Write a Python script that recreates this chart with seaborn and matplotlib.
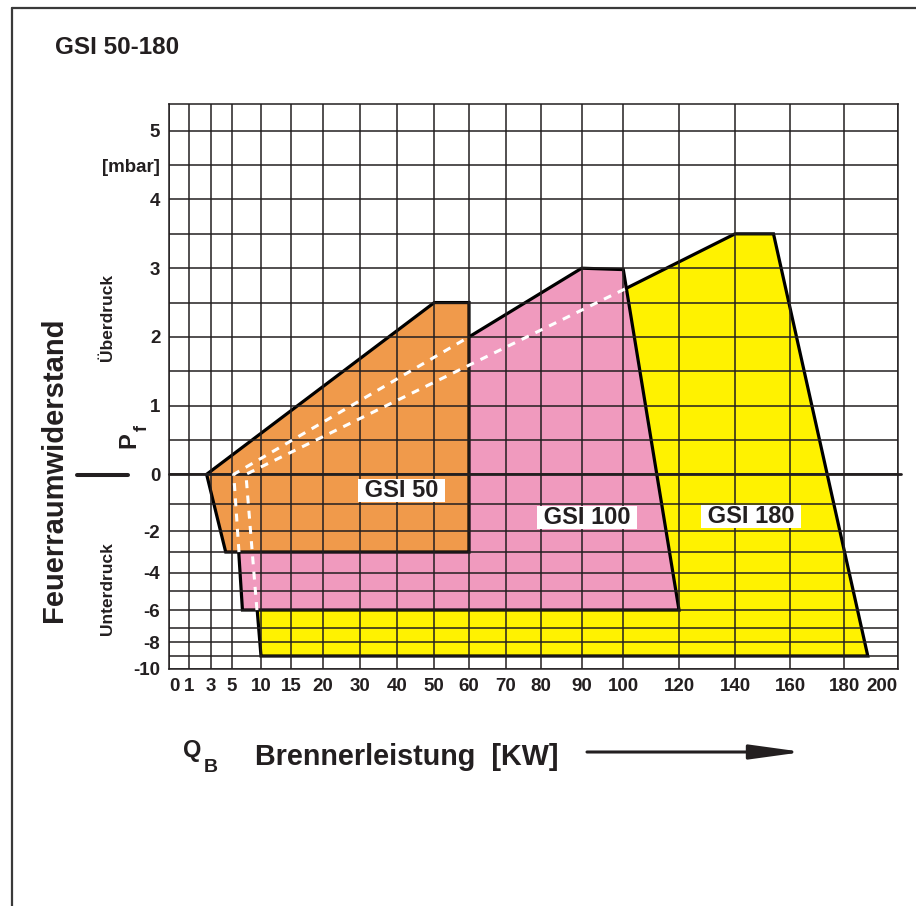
import numpy as np
import matplotlib
matplotlib.use("Agg")
import matplotlib.pyplot as plt
import seaborn as sns
from matplotlib.lines import Line2D

# printed grid of the chart: the axes are not uniform
q_ticks = [0, 1, 3, 5, 10, 15, 20, 30, 40, 50, 60, 70, 80, 90, 100, 120, 140, 160, 180, 200]
p_ticks = [-10, -9, -8, -7, -6, -5, -4, -3, -2, -1, 0, 0.5, 1, 1.5, 2, 2.5, 3, 3.5, 4, 4.5, 5]
p_labels = ["-10", "", "-8", "", "-6", "", "-4", "", "-2", "", "0", "", "1", "",
            "2", "", "3", "", "4", "[mbar]", "5"]

# working fields (corner points), Q in kW, Pf in mbar
gsi50_q = [2.6, 50, 60, 60, 4.4]
gsi50_p = [0, 2.5, 2.5, -3, -3]
gsi100_q = [5.3, 60, 90, 100, 120, 6.8]
gsi100_p = [0, 2.0, 3.0, 2.98, -6, -6]
gsi180_q = [7.4, 101.2, 140, 154, 188.8, 10]
gsi180_p = [0, 2.71, 3.5, 3.5, -9, -9]

# hidden edges, drawn white dashed
hidden100_q = [6.2, 5.3, 60]
hidden100_p = [-3, 0, 2.0]
hidden180_q = [9.3, 7.4, 101.2]
hidden180_p = [-6, 0, 2.71]

field_names = ["GSI 50", "GSI 100", "GSI 180"]
field_label_q = [41.3, 91.3, 145.9]
field_label_p = [-0.54, -1.49, -1.45]

# scale layout (position of each grid line along the axis, pixels)
q_pos = [0, 19.7, 41.7, 62.7, 91.7, 122.0, 153.4, 190.7, 227.4, 265.0, 299.7,
         336.2, 371.7, 412.4, 454.0, 509.7, 565.7, 620.7, 675.0, 728.4]
p_break = [-10, -9, -8, -7, -6, -5, -4, -3, -2, -1, 0, 5, 6]
p_pos = [0, 12.7, 26.7, 41.0, 58.7, 77.4, 96.0, 116.7, 137.7, 164.7, 194.4, 538.0, 606.7]

INK = "#231f20"
W, H = 916, 906


def fx(px):
    return px / W


def fy(py):
    return 1 - py / H


sns.set_theme(style="white")
plt.rcParams["font.family"] = ["Liberation Sans", "DejaVu Sans"]
plt.rcParams["font.weight"] = "bold"

fig = plt.figure(figsize=(W / 100, H / 100), dpi=100)
ax = fig.add_axes([fx(169.3), fy(668.7), fx(897.7) - fx(169.3), fy(104) - fy(668.7)])

ax.set_xscale("function", functions=(lambda v: np.interp(v, q_ticks, q_pos),
                                     lambda v: np.interp(v, q_pos, q_ticks)))
ax.set_yscale("function", functions=(lambda v: np.interp(v, p_break, p_pos),
                                     lambda v: np.interp(v, p_pos, p_break)))
ax.set_xlim(0, 200)
ax.set_ylim(-10, 5.39)

# fields, back to front
edge = dict(edgecolor="black", linewidth=2.3, joinstyle="miter")
ax.fill(gsi180_q, gsi180_p, facecolor="#fff200", zorder=1.0, **edge)
ax.fill(gsi100_q, gsi100_p, facecolor="#f09abe", zorder=1.1, **edge)
ax.fill(gsi50_q, gsi50_p, facecolor="#f09a4b", zorder=1.2, **edge)

# grid on top of the colour fields
ax.set_xticks(q_ticks)
ax.set_xticklabels([str(q) for q in q_ticks])
ax.set_yticks(p_ticks)
ax.set_yticklabels(p_labels)
ax.grid(True, color=INK, linewidth=1.1, zorder=2)
ax.set_axisbelow(False)
for ln in ax.get_xgridlines() + ax.get_ygridlines():
    ln.set_zorder(2)
ax.plot([0, 1.004], [0, 0], transform=ax.get_yaxis_transform(), color=INK,
        linewidth=2.0, clip_on=False, zorder=2.1)

ax.tick_params(axis="both", length=0, labelsize=13.5, colors=INK, pad=6.5)
for lab in ax.get_xticklabels() + ax.get_yticklabels():
    lab.set_fontweight("bold")
xl = ax.get_xticklabels()
xl[0].set_horizontalalignment("left")
xl[-1].set_horizontalalignment("right")
for sp in ax.spines.values():
    sp.set_color(INK)
    sp.set_linewidth(1.1)
    sp.set_zorder(2.2)

for hq, hp in [(hidden100_q, hidden100_p), (hidden180_q, hidden180_p)]:
    sns.lineplot(x=hq, y=hp, sort=False, estimator=None, color="white",
                 linewidth=2.2, dashes=False, ax=ax, zorder=3)
for ln in ax.lines[-2:]:
    ln.set_dashes((2.6, 2.4))

for name, q, p in zip(field_names, field_label_q, field_label_p):
    ax.text(q, p, " " + name + " ", fontsize=17, fontweight="bold", color=INK,
            ha="center", va="center", zorder=4,
            bbox=dict(boxstyle="square,pad=0", facecolor="white", edgecolor="none"))

ax.set_xlabel("")
ax.set_ylabel("")

# frame of the sheet
fig.add_artist(Line2D([fx(12), fx(12)], [fy(8), 0], transform=fig.transFigure,
                      color="#3a3a3a", linewidth=1.6))
fig.add_artist(Line2D([fx(12), 1], [fy(8), fy(8)], transform=fig.transFigure,
                      color="#3a3a3a", linewidth=1.6))

fig.text(fx(55), fy(54), "GSI 50-180", fontsize=17.5, fontweight="bold", color=INK,
         ha="left", va="baseline")

# y axis captions
fig.text(fx(61.7), fy(470), "Feuerraumwiderstand", fontsize=21, fontweight="bold",
         color=INK, rotation=90, rotation_mode="anchor", ha="center", va="baseline")
fig.text(fx(111.7), fy(317), "Überdruck", fontsize=12.5, fontweight="bold",
         color=INK, rotation=90, rotation_mode="anchor", ha="center", va="baseline")
fig.text(fx(111.7), fy(589), "Unterdruck", fontsize=12.5, fontweight="bold",
         color=INK, rotation=90, rotation_mode="anchor", ha="center", va="baseline")
fig.text(fx(135), fy(440), "P", fontsize=17, fontweight="bold", color=INK,
         rotation=90, rotation_mode="anchor", ha="center", va="baseline")
fig.text(fx(147), fy(428), "f", fontsize=13, fontweight="bold", color=INK,
         rotation=90, rotation_mode="anchor", ha="center", va="baseline")
fig.add_artist(Line2D([fx(77), fx(128)], [fy(475), fy(475)], transform=fig.transFigure,
                      color=INK, linewidth=2.9))

# x axis caption
fig.text(fx(183.5), fy(757), "Q", fontsize=17, fontweight="bold", color=INK,
         ha="left", va="baseline")
fig.text(fx(203.6), fy(772), "B", fontsize=14, fontweight="bold", color=INK,
         ha="left", va="baseline")
fig.text(fx(255), fy(765), "Brennerleistung  [KW]", fontsize=20.7, fontweight="bold",
         color=INK, ha="left", va="baseline")
ax.annotate("", xy=(803, H - 752), xytext=(587, H - 752), xycoords="figure pixels",
            textcoords="figure pixels",
            arrowprops=dict(arrowstyle="-|>,head_length=1.6,head_width=0.22",
                            color=INK, linewidth=2.2, mutation_scale=20,
                            shrinkA=0, shrinkB=0))

fig.savefig("out.png", dpi=100)
